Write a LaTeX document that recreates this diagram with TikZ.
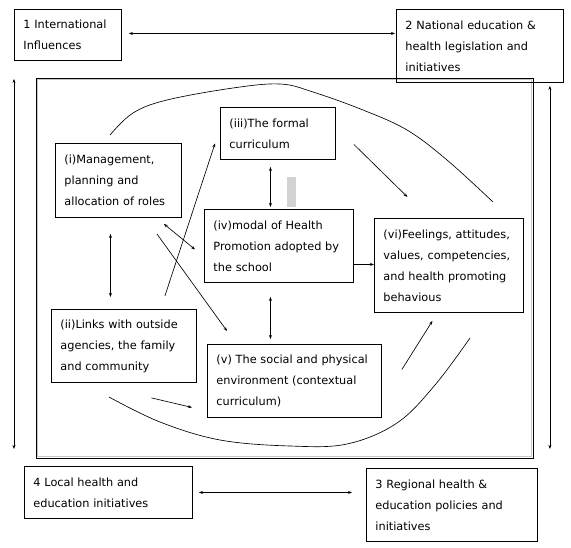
\documentclass[tikz,border=0pt]{standalone}
\usepackage{fontspec}
\setmainfont{DejaVu Sans}
\usetikzlibrary{arrows.meta}

\begin{document}
\begin{tikzpicture}[x=1pt, y=-1pt,
    box/.style={draw, line width=0.9pt, anchor=north west, align=left,
        inner xsep=9pt, inner ysep=0pt, font=\fontsize{11.3}{21}\selectfont},
    frame/.style={draw, line width=1pt, anchor=north west, inner sep=0pt},
    link/.style={line width=0.65pt, -{Stealth[length=4pt,width=3pt]}},
    both/.style={line width=0.65pt, {Stealth[length=4pt,width=3pt]}-{Stealth[length=4pt,width=3pt]}},
    curve/.style={line width=0.65pt}
]
\useasboundingbox (0,0) rectangle (571,548);

% =========================
% The school frame
% =========================
\node[frame, minimum width=497pt, minimum height=380pt] (school) at (36,78) {};
\draw[gray!45, line width=0.8pt] (37.8,79.8) rectangle (531.2,456.2);
\fill[gray!35] (287,177) rectangle (296,207);

% =========================
% Outer influences
% =========================
\node[box, minimum width=107pt, minimum height=51pt, text width=89pt] (intl) at (14,9)
    {1 International\\Influences};
\node[box, minimum width=167pt, minimum height=73pt, text width=149pt] (natl) at (396,9)
    {2 National education \&\\health legislation and\\initiatives};
\node[box, minimum width=168pt, minimum height=52pt, text width=150pt] (local) at (24,466)
    {4 Local health and\\education initiatives};
\node[box, minimum width=171pt, minimum height=73pt, text width=153pt] (regional) at (366,468)
    {3 Regional health \&\\education policies and\\initiatives};

% =========================
% Inside the school
% =========================
\node[box, minimum width=115pt, minimum height=52pt, text width=97pt] (formal) at (220,107)
    {(iii)The formal\\curriculum};
\node[box, minimum width=126pt, minimum height=74pt, text width=108pt] (mgmt) at (55,143)
    {(i)Management,\\planning and\\allocation of roles};
\node[box, minimum width=149pt, minimum height=73pt, text width=131pt] (model) at (204,209)
    {(iv)modal of Health\\Promotion adopted by\\the school};
\node[box, minimum width=149pt, minimum height=94pt, text width=131pt] (feel) at (374,218)
    {(vi)Feelings, attitudes,\\values, competencies,\\and health promoting\\behavious};
\node[box, minimum width=145pt, minimum height=73pt, text width=127pt] (links) at (51,309)
    {(ii)Links with outside\\agencies, the family\\and community};
\node[box, minimum width=174pt, minimum height=73pt, text width=156pt] (envir) at (207,344)
    {(v) The social and physical\\environment (contextual\\curriculum)};

% outer arrows
\draw[both] ([xshift=7pt,yshift=1.5pt]intl.east) -- ([xshift=-1pt,yshift=12.5pt]natl.west);
\draw[both] ([xshift=6pt]local.east) -- ([xshift=-14pt,yshift=12.5pt]regional.west);
\draw[both] ([yshift=-18pt]intl.south west) -- ([xshift=-10pt,yshift=17pt]local.north west);
\draw[both] ([xshift=-14pt,yshift=-3pt]natl.south east) -- ([xshift=12pt,yshift=19pt]regional.north east);

% inner arrows
\draw[both] ([xshift=-7.5pt,yshift=-7pt]formal.south) -- ([xshift=-8.5pt,yshift=2pt]model.north);
\draw[both] ([xshift=-8.5pt,yshift=-14pt]model.south) -- ([xshift=-24pt,yshift=5pt]envir.north);
\draw[both] ([xshift=-8pt,yshift=-16pt]mgmt.south) -- ([xshift=-13.5pt,yshift=12pt]links.north);
\draw[both] ([xshift=-18pt,yshift=-6pt]mgmt.south east) -- ([xshift=-9pt,yshift=-3.5pt]model.west);
\draw[link] ([xshift=-25pt,yshift=-16pt]mgmt.south east) -- ([xshift=20pt,yshift=13pt]envir.north west);
\draw[link] ([xshift=-32pt,yshift=13pt]links.north east) -- ([xshift=-5pt,yshift=-10pt]formal.west);
\draw[link] ([xshift=18pt,yshift=-11pt]formal.east) -- ([xshift=-41.5pt,yshift=21pt]feel.north);
\draw[link] ([yshift=-18.5pt]model.east) -- ([yshift=1pt]feel.west);
\draw[link] ([xshift=20pt,yshift=11.5pt]envir.east) -- ([xshift=-16.5pt,yshift=-8pt]feel.south);
\draw[link] ([xshift=27.5pt,yshift=-15pt]links.south) -- ([xshift=-15pt,yshift=-26.5pt]envir.west);

% sweeping curves
\draw[curve] plot[smooth, tension=0.6] coordinates
    {(110,135) (133,113) (167,100) (233,88) (280,84) (313,92) (363,110) (407,130) (447,160) (493,202)};
\draw[curve] plot[smooth, tension=0.6] coordinates
    {(109,397) (160,422) (220,440) (290,446) (347,444) (397,423) (435,385) (470,338)};

\end{tikzpicture}
\end{document}
